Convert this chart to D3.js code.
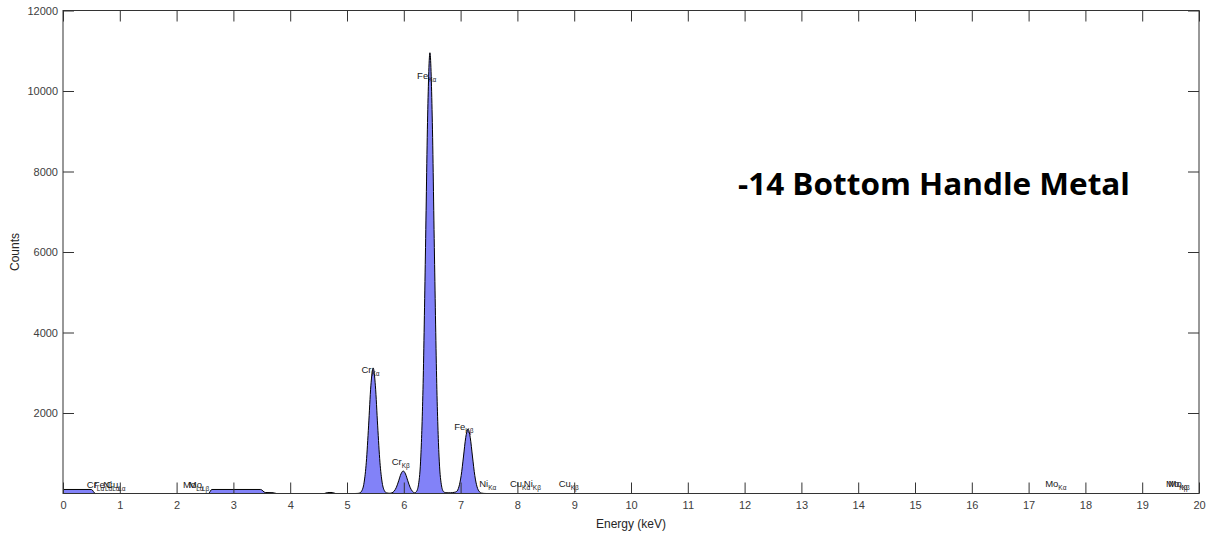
<!DOCTYPE html>
<html>
<head>
<meta charset="utf-8">
<script src="https://cdnjs.cloudflare.com/ajax/libs/d3/7.8.5/d3.min.js"></script>
<style>
  body { margin: 0; background: #fff; }
  text { font-family: "Liberation Sans", Arial, sans-serif; }
</style>
</head>
<body>
<div id="main"></div>
<script>
/*********************************************************
 * Data
 *********************************************************/
// spectrum points (energy in keV, counts)
const spectrumKeV = [
  0, 0.50, 0.57, 2.56, 2.62, 3.48, 3.56, 3.70, 3.76, 4.60, 4.66, 4.74, 4.80,
  5.14, 5.18, 5.22, 5.26, 5.30, 5.34, 5.38, 5.42, 5.46, 5.50, 5.54, 5.58, 5.62, 5.66, 5.70, 5.74,
  5.79, 5.83, 5.87, 5.91, 5.95, 5.99, 6.03, 6.07, 6.11, 6.15, 6.19,
  6.22, 6.26, 6.30, 6.34, 6.38, 6.42, 6.46, 6.50, 6.54, 6.58, 6.62, 6.66, 6.70, 6.74,
  6.78, 6.82, 6.86,
  6.89, 6.93, 6.97, 7.01, 7.05, 7.09, 7.13, 7.17, 7.21, 7.25, 7.29, 7.33, 7.37, 7.41, 7.46, 20
];
const spectrumCounts = [
  100, 100, 0, 0, 100, 100, 25, 20, 0, 0, 25, 25, 0,
  0, 2, 12, 66, 264, 777, 1680, 2675, 3120, 2675, 1680, 777, 264, 66, 14, 6,
  16, 58, 156, 317, 486, 560, 486, 317, 156, 58, 18,
  44, 230, 930, 2730, 5900, 9380, 10950, 9380, 5900, 2730, 930, 230, 45, 20,
  18, 18, 22,
  30, 50, 165, 445, 907, 1387, 1600, 1387, 907, 445, 165, 46, 10, 2, 0, 0
];

// element line labels: name, line (subscript), energy, label height in counts
const labelNames = ['Cr', 'Fe', 'Ni', 'Cu', 'Mo', 'Mo', 'Cr', 'Cr', 'Fe', 'Fe', 'Ni', 'Cu', 'Ni', 'Cu', 'Mo', 'Mo', 'Mo'];
const labelLines = ['Lα', 'Lα', 'Lα', 'Lα', 'Lα', 'Lβ', 'Kα', 'Kβ', 'Kα', 'Kβ', 'Kα', 'Kα', 'Kβ', 'Kβ', 'Kα', 'Kβ', 'Kβ'];
const labelKeV = [0.573, 0.705, 0.851, 0.930, 2.293, 2.395, 5.414, 5.946, 6.403, 7.057, 7.477, 8.047, 8.264, 8.904, 17.479, 19.608, 19.650];
const labelCounts = [200, 200, 200, 200, 200, 200, 3060, 780, 10370, 1640, 230, 230, 230, 230, 230, 230, 230];

const xTicks = d3.range(0, 21);
const yTicks = [2000, 4000, 6000, 8000, 10000, 12000];

const sampleTitle = '-14 Bottom Handle Metal';

/*********************************************************
 * Layout
 *********************************************************/
const svgWidth = 1207;
const svgHeight = 533;
const margin = { t: 10.5, r: 8, b: 39.5, l: 63 };
const width = svgWidth - margin.l - margin.r;
const height = svgHeight - margin.t - margin.b;
const tickLen = 11;
const axisColor = '#333';

const svg = d3.select('#main')
  .append('svg')
  .attr('width', svgWidth)
  .attr('height', svgHeight);

const plot = svg.append('g')
  .attr('transform', `translate(${margin.l}, ${margin.t})`);

const x = d3.scaleLinear().domain([0, 20]).range([0, width]);
const y = d3.scaleLinear().domain([0, 12000]).range([height, 0]);

/*********************************************************
 * Spectrum
 *********************************************************/
const spectrum = spectrumKeV.map((e, i) => ({ e: e, c: spectrumCounts[i] }));

const area = d3.area()
  .x(d => x(d.e))
  .y0(y(0))
  .y1(d => y(d.c))
  .curve(d3.curveMonotoneX);

const line = d3.line()
  .x(d => x(d.e))
  .y(d => y(d.c))
  .curve(d3.curveMonotoneX);

plot.append('path')
  .datum(spectrum)
  .attr('d', area)
  .attr('fill', '#8282f8');

plot.append('path')
  .datum(spectrum)
  .attr('d', line)
  .attr('fill', 'none')
  .attr('stroke', '#000')
  .attr('stroke-width', 1);

/*********************************************************
 * Axes (MATLAB style box with inward ticks)
 *********************************************************/
function styleAxis(g) {
  g.select('.domain').remove();
  g.selectAll('.tick line').attr('stroke', axisColor);
  g.selectAll('.tick text')
    .attr('fill', '#404040')
    .style('font-size', '11px');
}

plot.append('g')
  .attr('transform', `translate(0, ${height})`)
  .call(d3.axisBottom(x).tickValues(xTicks).tickSizeInner(-tickLen).tickSizeOuter(0).tickPadding(8).tickFormat(d3.format('d')))
  .call(styleAxis);

plot.append('g')
  .call(d3.axisTop(x).tickValues(xTicks).tickSizeInner(-tickLen).tickSizeOuter(0).tickFormat(''))
  .call(styleAxis);

plot.append('g')
  .call(d3.axisLeft(y).tickValues(yTicks).tickSizeInner(-tickLen).tickSizeOuter(0).tickPadding(5).tickFormat(d3.format('d')))
  .call(styleAxis);

plot.append('g')
  .attr('transform', `translate(${width}, 0)`)
  .call(d3.axisRight(y).tickValues(yTicks).tickSizeInner(-tickLen).tickSizeOuter(0).tickFormat(''))
  .call(styleAxis);

plot.append('rect')
  .attr('x', 0)
  .attr('y', 0)
  .attr('width', width)
  .attr('height', height)
  .attr('fill', 'none')
  .attr('stroke', axisColor)
  .attr('stroke-width', 1);

/*********************************************************
 * Peak labels
 *********************************************************/
const labels = labelNames.map((n, i) => ({
  name: n, sub: labelLines[i], e: labelKeV[i], c: labelCounts[i]
}));

const labelText = plot.selectAll('.peakLabel')
  .data(labels)
  .enter()
  .append('text')
  .attr('class', 'peakLabel')
  .attr('x', d => x(d.e))
  .attr('y', d => y(d.c) + 3)
  .attr('text-anchor', 'middle')
  .attr('fill', '#1a1a1a')
  .style('font-size', '9.5px');

labelText.append('tspan').text(d => d.name);
labelText.append('tspan')
  .attr('dy', 3)
  .style('font-size', '6.5px')
  .text(d => d.sub);

/*********************************************************
 * Axis titles and annotation
 *********************************************************/
svg.append('text')
  .attr('x', margin.l + width / 2)
  .attr('y', 528)
  .attr('text-anchor', 'middle')
  .attr('fill', '#262626')
  .style('font-size', '12px')
  .text('Energy (keV)');

svg.append('text')
  .attr('transform', 'translate(19, 252) rotate(-90)')
  .attr('text-anchor', 'middle')
  .attr('fill', '#262626')
  .style('font-size', '12px')
  .text('Counts');

svg.append('text')
  .attr('x', 738)
  .attr('y', 195)
  .attr('textLength', 392)
  .attr('lengthAdjust', 'spacingAndGlyphs')
  .style('font-family', '"Open Sans", "Noto Sans", sans-serif')
  .style('font-weight', 'bold')
  .style('font-size', '30px')
  .attr('fill', '#000')
  .text(sampleTitle);
</script>
</body>
</html>
